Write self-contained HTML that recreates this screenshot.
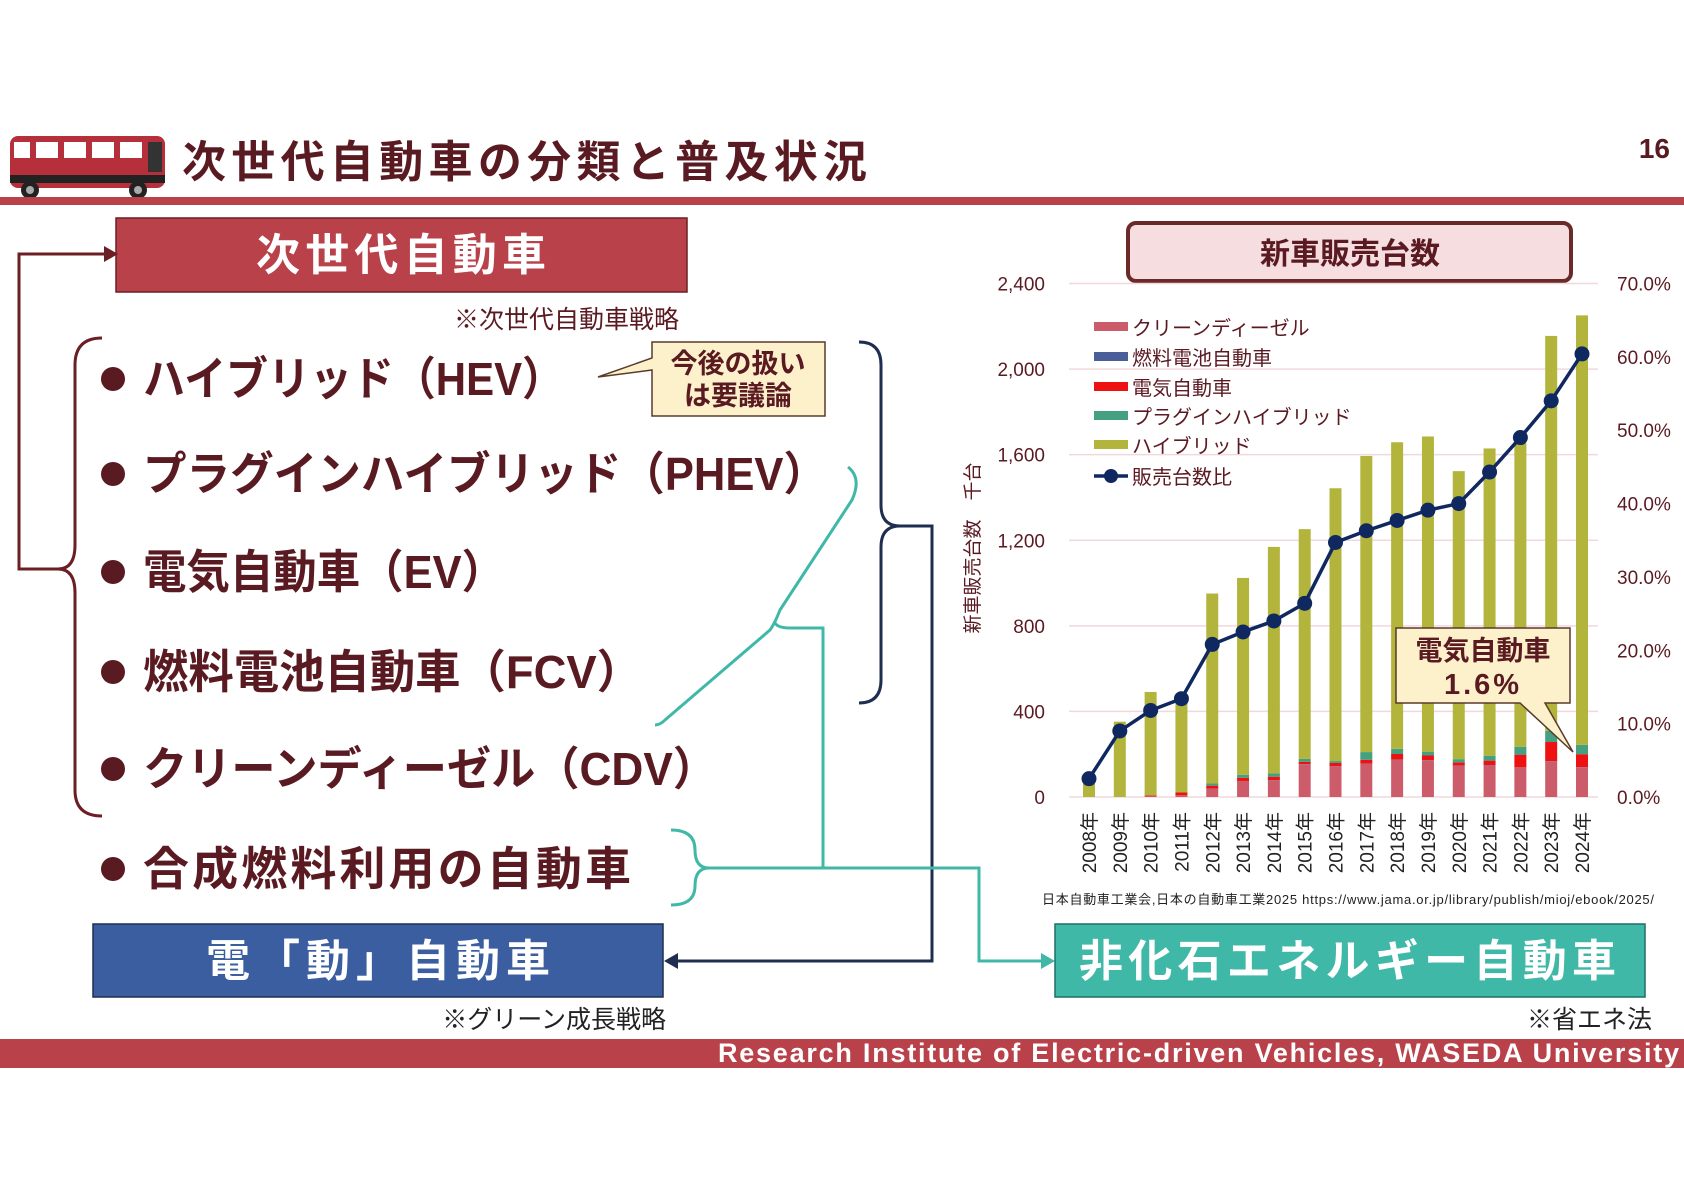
<!DOCTYPE html>
<html><head><meta charset="utf-8"><style>
html,body{margin:0;padding:0;background:#fff}
svg{display:block}
text{font-family:"Liberation Sans","Noto Sans CJK JP",sans-serif}
.b{font-weight:bold}
</style></head><body>
<svg id="root" width="1684" height="1190" viewBox="0 0 1684 1190" xmlns="http://www.w3.org/2000/svg">
<g>
<rect x="10" y="136" width="155" height="52" rx="8" fill="#b5303a"/>
<rect x="14" y="142" width="16" height="16" fill="#fff"/>
<rect x="36" y="142" width="22" height="16" fill="#fff"/>
<rect x="64" y="142" width="22" height="16" fill="#fff"/>
<rect x="92" y="142" width="22" height="16" fill="#fff"/>
<rect x="120" y="142" width="22" height="16" fill="#fff"/>
<rect x="148" y="142" width="14" height="30" fill="#333"/>
<rect x="10" y="175" width="155" height="8" fill="#222"/>
<circle cx="30" cy="190" r="9" fill="#222"/><circle cx="30" cy="190" r="4" fill="#aaa"/>
<circle cx="138" cy="190" r="9" fill="#222"/><circle cx="138" cy="190" r="4" fill="#aaa"/>
</g>
<text x="182" y="177" font-size="44" class="b" fill="#5a1a22" textLength="685" lengthAdjust="spacing">次世代自動車の分類と普及状況</text>
<text x="1670" y="158" font-size="28" class="b" fill="#5a1a22" text-anchor="end">16</text>
<rect x="0" y="197" width="1684" height="8" fill="#b8414a"/>

<rect x="116" y="218" width="571" height="74" fill="#b8414a" stroke="#6b1f25" stroke-width="1.5"/>
<text x="256" y="270" font-size="44" class="b" fill="#fff" textLength="290" lengthAdjust="spacing">次世代自動車</text>
<text x="679" y="328" font-size="25" fill="#5a1a22" text-anchor="end">※次世代自動車戦略</text>

<g fill="#5a1a22">
<circle cx="113" cy="379" r="12"/><text x="143" y="395" font-size="46" class="b" textLength="421" lengthAdjust="spacingAndGlyphs">ハイブリッド（HEV）</text>
<circle cx="113" cy="474" r="12"/><text x="143" y="490" font-size="46" class="b" textLength="684" lengthAdjust="spacingAndGlyphs">プラグインハイブリッド（PHEV）</text>
<circle cx="113" cy="572" r="12"/><text x="143" y="588" font-size="46" class="b" textLength="362" lengthAdjust="spacingAndGlyphs">電気自動車（EV）</text>
<circle cx="113" cy="672" r="12"/><text x="143" y="688" font-size="46" class="b" textLength="499" lengthAdjust="spacingAndGlyphs">燃料電池自動車（FCV）</text>
<circle cx="113" cy="769" r="12"/><text x="143" y="785" font-size="46" class="b" textLength="574" lengthAdjust="spacingAndGlyphs">クリーンディーゼル（CDV）</text>
<circle cx="113" cy="869" r="12"/><text x="143" y="885" font-size="46" class="b" textLength="488" lengthAdjust="spacing">合成燃料利用の自動車</text>
</g>

<g>
<path d="M652,342 L825,342 L825,416 L652,416 L652,370 L598,377 L652,358 Z" fill="#fdf1cc" stroke="#5a3a2a" stroke-width="1.5"/>
<text x="738" y="373" font-size="27" class="b" fill="#5a1a22" text-anchor="middle">今後の扱い</text>
<text x="738" y="405" font-size="27" class="b" fill="#5a1a22" text-anchor="middle">は要議論</text>
</g>

<g fill="none" stroke="#6b1f25" stroke-width="3">
<path d="M102,338 Q75,338 75,365 L75,545 Q75,569 58,569 Q75,569 75,593 L75,790 Q75,816 102,816"/>
<path d="M58,569 L19,569 L19,254 L108,254"/>
</g>
<path d="M118,254 L104,246 L104,262 Z" fill="#6b1f25"/>

<g fill="none" stroke="#1f2e50" stroke-width="3">
<path d="M859,342 Q881,342 881,365 L881,505 Q881,526 900,526 Q881,526 881,547 L881,680 Q881,703 859,703"/>
<path d="M900,526 L932,526 L932,961 L672,961"/>
</g>
<path d="M664,961 L678,953 L678,969 Z" fill="#1f2e50"/>

<g fill="none" stroke="#3fb8a8" stroke-width="3">
<path d="M848,467 Q862,478 852,500 L780,610 Q775,623 770,630 L665,720 Q660,725 655,725"/>
<path d="M775,623 Q778,628 790,628 L823,628 L823,868"/>
<path d="M671,830 Q695,830 695,850 Q695,868 709,868 Q695,868 695,886 Q695,905 671,905"/>
<path d="M709,868 L979,868 L979,961 L1046,961"/>
</g>
<path d="M1055,961 L1041,953 L1041,969 Z" fill="#3fb8a8"/>

<rect x="93" y="924" width="570" height="73" fill="#3b5ea0" stroke="#1f2e50" stroke-width="1.5"/>
<text x="206" y="976" font-size="44" class="b" fill="#fff" textLength="344" lengthAdjust="spacing">電「動」自動車</text>
<text x="666" y="1028" font-size="25" fill="#222" text-anchor="end">※グリーン成長戦略</text>
<rect x="1055" y="924" width="590" height="73" fill="#3fb8a8" stroke="#1f6f66" stroke-width="1.5"/>
<text x="1079" y="976" font-size="44" class="b" fill="#fff" textLength="537" lengthAdjust="spacing">非化石エネルギー自動車</text>
<text x="1652" y="1028" font-size="25" fill="#222" text-anchor="end">※省エネ法</text>

<rect x="0" y="1039" width="1684" height="29" fill="#b8414a"/>
<text x="718" y="1062" font-size="27" class="b" fill="#fff" textLength="961" lengthAdjust="spacing">Research Institute of Electric-driven Vehicles, WASEDA University</text>

<rect x="1128" y="223" width="443" height="58" rx="8" fill="#f5dde0" stroke="#6b2a2a" stroke-width="4"/>
<text x="1350" y="264" font-size="30" class="b" fill="#5a1a22" text-anchor="middle">新車販売台数</text>
<g id="chart"></g>
<text x="1042" y="904" font-size="13" fill="#222" textLength="612" lengthAdjust="spacing">日本自動車工業会,日本の自動車工業2025 https://www.jama.or.jp/library/publish/mioj/ebook/2025/</text>
</svg>
<script>
const years=["2008年","2009年","2010年","2011年","2012年","2013年","2014年","2015年","2016年","2017年","2018年","2019年","2020年","2021年","2022年","2023年","2024年"];
const cdv=[0,0,5,8,40,75,78,153,143,155,174,172,146,147,138,167,139];
const fcv=[0,0,0,0,0,0,1,1,1,1,1,1,1,2,1,1,1];
const ev=[0,0,3,13,13,15,16,10,15,18,26,21,15,21,59,89,60];
const phev=[0,0,0,0,10,14,16,14,9,36,24,18,15,23,37,52,44];
const hev=[62,352,483,437,888,920,1058,1074,1275,1384,1433,1473,1346,1436,1421,1846,2007];
const ratio=[2.5,9.0,11.8,13.4,20.8,22.5,24.0,26.4,34.7,36.3,37.7,39.1,40.0,44.3,49.0,54.0,60.4];
const leftTicks=["0","400","800","1,200","1,600","2,000","2,400"];
const rightTicks=["0.0%","10.0%","20.0%","30.0%","40.0%","50.0%","60.0%","70.0%"];
const NS="http://www.w3.org/2000/svg";
const g=document.getElementById('chart');
const X0=1069,X1=1598,Y0=797,YT=283.5;
const yL=v=>Y0-(v/2400)*(Y0-YT);
const yR=v=>Y0-(v/70)*(Y0-YT);
const xC=i=>1089+i*(1582-1089)/(years.length-1);
function el(t,a){const e=document.createElementNS(NS,t);for(const k in a)e.setAttribute(k,a[k]);g.appendChild(e);return e;}
leftTicks.forEach((t,i)=>{const v=i*400;
 const l=el('line',{x1:X0,x2:X1,y1:yL(v),y2:yL(v),stroke:'#f0d8dc','stroke-width':1.5});
 
 
 const tx=el('text',{x:1045,y:yL(v)+7,'font-size':19,fill:'#5a1a22','text-anchor':'end'});tx.textContent=t;
 
 
});
rightTicks.forEach((t,i)=>{const tx=el('text',{x:1617,y:yR(i*10)+7,'font-size':19,fill:'#5a1a22'});tx.textContent=t;
 
 
});
const series=[[cdv,'#cd5c6a','cdv'],[fcv,'#4a5f9a','fcv'],[ev,'#ee1111','ev'],[phev,'#44a080','phev'],[hev,'#b3b43c','hev']];
years.forEach((yr,i)=>{let acc=0;
 series.forEach(([arr,c,n])=>{const v=arr[i];if(v>0){const r=el('rect',{x:xC(i)-6,width:12,y:yL(acc+v),height:yL(acc)-yL(acc+v),fill:c});
  
  }acc+=v;});
 const tx=el('text',{x:0,y:0,'font-size':19,fill:'#222','text-anchor':'end',transform:`translate(${xC(i)+7},812) rotate(-90)`});tx.textContent=yr;
 
 
});
const pl=el('polyline',{points:ratio.map((v,i)=>xC(i)+','+yR(v)).join(' '),fill:'none',stroke:'#0f2860','stroke-width':3.5});


ratio.forEach((v,i)=>{const c=el('circle',{cx:xC(i),cy:yR(v),r:7.5,fill:'#0f2860'});
 
 });
const yt=el('text',{x:0,y:0,'font-size':19,fill:'#5a1a22','text-anchor':'middle',transform:'translate(979,548) rotate(-90)'});yt.textContent='新車販売台数　千台';


const leg=[['クリーンディーゼル','#cd5c6a'],['燃料電池自動車','#4a5f9a'],['電気自動車','#ee1111'],['プラグインハイブリッド','#44a080'],['ハイブリッド','#b3b43c']];
const ly=[327,357,387,416,445];
leg.forEach(([t,c],i)=>{const r=el('rect',{x:1094,y:ly[i]-5,width:34,height:9,fill:c});
 
 
 const tx=el('text',{x:1132,y:ly[i]+8,'font-size':20,fill:'#5a1a22'});tx.textContent=t;
 
 });
const ll=el('line',{x1:1094,x2:1128,y1:476,y2:476,stroke:'#0f2860','stroke-width':3.5});


const lc=el('circle',{cx:1111,cy:476,r:7,fill:'#0f2860'});


const lt=el('text',{x:1132,y:484,'font-size':20,fill:'#5a1a22'});lt.textContent='販売台数比';


const cp=el('path',{d:'M1396,628 L1570,628 L1570,703 L1545,703 L1573,752 L1520,703 L1396,703 Z',fill:'#fdf1cc',stroke:'#5a3a2a','stroke-width':1.5});


const c1=el('text',{x:1483,y:660,'font-size':27,'font-weight':'bold',fill:'#5a1a22','text-anchor':'middle'});c1.textContent='電気自動車';


const c2=el('text',{x:1483,y:694,'font-size':29,'font-weight':'bold',fill:'#5a1a22','text-anchor':'middle','letter-spacing':3});c2.textContent='1.6%';


</script>
</body></html>
